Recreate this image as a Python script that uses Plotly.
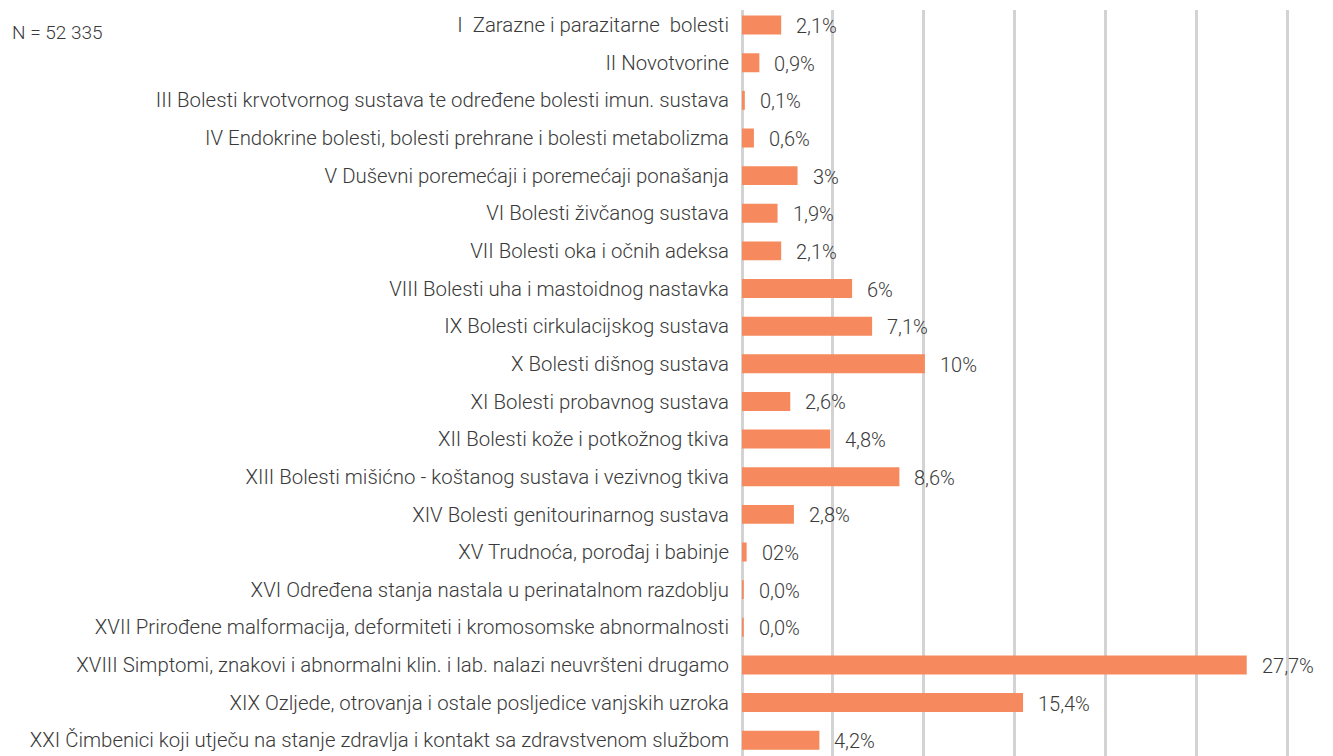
import plotly.graph_objects as go

# Disease groups (ICD-10 chapters) and their share of all diagnoses
categories = [
    "I\u00a0 Zarazne i parazitarne\u00a0 bolesti",
    "II Novotvorine",
    "III Bolesti krvotvornog sustava te određene bolesti imun. sustava",
    "IV Endokrine bolesti, bolesti prehrane i bolesti metabolizma",
    "V Duševni poremećaji i poremećaji ponašanja",
    "VI Bolesti živčanog sustava",
    "VII Bolesti oka i očnih adeksa",
    "VIII Bolesti uha i mastoidnog nastavka",
    "IX Bolesti cirkulacijskog sustava",
    "X Bolesti dišnog sustava",
    "XI Bolesti probavnog sustava",
    "XII Bolesti kože i potkožnog tkiva",
    "XIII Bolesti mišićno - koštanog sustava i vezivnog tkiva",
    "XIV Bolesti genitourinarnog sustava",
    "XV Trudnoća, porođaj i babinje",
    "XVI Određena stanja nastala u perinatalnom razdoblju",
    "XVII Prirođene malformacija, deformiteti i kromosomske abnormalnosti",
    "XVIII Simptomi, znakovi i abnormalni klin. i lab. nalazi neuvršteni drugamo",
    "XIX Ozljede, otrovanja i ostale posljedice vanjskih uzroka",
    "XXI Čimbenici koji utječu na stanje zdravlja i kontakt sa zdravstvenom službom",
]

shares = [2.1, 0.9, 0.1, 0.6, 3.0, 1.9, 2.1, 6.0, 7.1, 10.0, 2.6, 4.8, 8.6, 2.8,
          0.2, 0.04, 0.04, 27.7, 15.4, 4.2]

share_labels = ["2,1%", "0,9%", "0,1%", "0,6%", "3%", "1,9%", "2,1%", "6%", "7,1%",
                "10%", "2,6%", "4,8%", "8,6%", "2,8%", "02%", "0,0%", "0,0%",
                "27,7%", "15,4%", "4,2%"]

total_label = "N = 52 335"

BAR = "#F68A5E"
TEXT = "#3a3a3a"
GRID = "#d3d3d3"
TICK_FONT = dict(family="Roboto", size=20.4, color=TEXT, weight=300)
VALUE_FONT = dict(family="Roboto", size=20, color=TEXT, weight=300)

W, H = 1333, 756
L, R, T, B = 742, 40, 10, 0
X_MAX = 30.3

fig = go.Figure(
    go.Bar(
        x=shares,
        y=categories,
        orientation="h",
        marker=dict(color=BAR, line=dict(color=BAR, width=2)),
        hoverinfo="skip",
    )
)

# value labels to the right of each bar
for cat, val, txt in zip(categories, shares, share_labels):
    fig.add_annotation(
        x=val, y=cat, text=txt, showarrow=False,
        xanchor="left", yanchor="middle", xshift=14, yshift=-1,
        font=VALUE_FONT,
    )

plot_w = W - L - R
plot_h = H - T - B
fig.add_annotation(
    xref="paper", yref="paper",
    x=(10 - L) / plot_w, y=1 - (32 - T) / plot_h,
    text=total_label, showarrow=False,
    xanchor="left", yanchor="middle",
    font=dict(family="Roboto", size=19, color=TEXT, weight=300),
)

fig.update_layout(
    width=W, height=H,
    margin=dict(l=L, r=R, t=T, b=B, pad=0),
    paper_bgcolor="white", plot_bgcolor="white",
    bargap=0.55,
    showlegend=False,
    xaxis=dict(
        range=[0, X_MAX], dtick=5, tick0=0,
        showgrid=True, gridcolor=GRID, gridwidth=2.5,
        zeroline=True, zerolinecolor=GRID, zerolinewidth=2.5,
        showticklabels=False, showline=False, fixedrange=True,
    ),
    yaxis=dict(
        range=[len(categories) - 1 + 0.42, -0.40],
        showgrid=False, zeroline=False, showline=False,
        tickfont=TICK_FONT, ticks="", ticklabelstandoff=12,
        fixedrange=True,
    ),
)

fig.write_html("out.html", config={"displayModeBar": False})
